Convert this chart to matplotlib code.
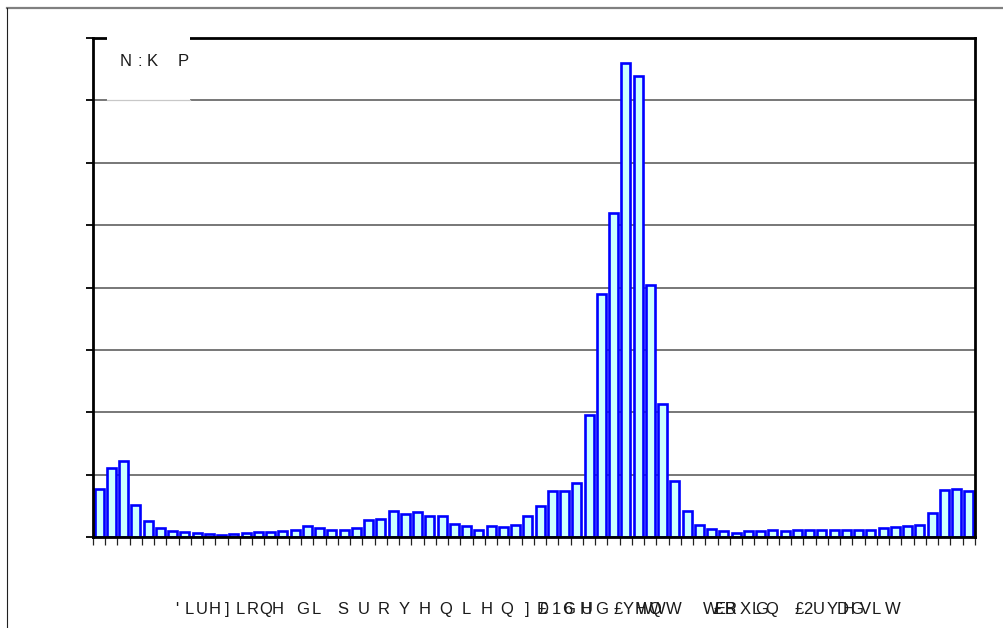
import matplotlib
matplotlib.use("Agg")
import matplotlib.pyplot as plt
from matplotlib.patches import Rectangle
from matplotlib.lines import Line2D
import numpy as np

# bar heights, one per 5 degree sector (72 sectors)
values = [0.77, 1.10, 1.22, 0.52, 0.26, 0.14, 0.10, 0.08, 0.06, 0.05,
          0.03, 0.05, 0.06, 0.08, 0.08, 0.10, 0.11, 0.17, 0.15, 0.11,
          0.11, 0.15, 0.28, 0.29, 0.41, 0.37, 0.40, 0.33, 0.33, 0.21,
          0.17, 0.12, 0.17, 0.16, 0.20, 0.34, 0.50, 0.73, 0.74, 0.86,
          1.95, 3.89, 5.20, 7.60, 7.39, 4.04, 2.13, 0.90, 0.41, 0.19,
          0.13, 0.09, 0.07, 0.09, 0.09, 0.12, 0.10, 0.12, 0.12, 0.11,
          0.12, 0.12, 0.12, 0.11, 0.14, 0.155, 0.17, 0.20, 0.39, 0.75,
          0.77, 0.73]

unit_label = "N:K P"
unit_x = [120, 138, 147, 178]

# x axis title as it appears (wrongly encoded font, broken spacing)
xlabel_words = ["'LUH]LRQH", "GL", "SURYHQLHQ]"]
xlabel_words_layout = [(177, 12.6), (303, 13.0), (343, 20.5)]
xlabel_tail = "D£1G6HUG£YHWQWWWE£RBXLGQ£2UYDHGVLW"
xlabel_tail_x = [537, 539, 552, 562, 563, 580, 581, 595,
                 614, 623, 635, 637, 648, 650, 666, 703, 715, 714, 725,
                 725, 740, 752, 755, 765, 795, 803, 813, 827, 837, 843,
                 850, 860, 872, 885]

W, H = 1004, 628


def fx(px):
    return px / W


def fy(py):
    return 1 - py / H


def main():
    plt.rcParams['font.family'] = ['Liberation Sans', 'DejaVu Sans']
    fig = plt.figure(figsize=(W / 100, H / 100), dpi=100)
    ax = fig.add_axes([fx(93), fy(537), fx(975) - fx(93), fy(38) - fy(537)])

    x = np.arange(len(values))
    ax.bar(x, values, width=0.74, color='#ccffff', edgecolor='#0000ff',
           linewidth=1.9, zorder=3)

    ax.set_xlim(-0.5, len(values) - 0.5)
    ax.set_ylim(0, 8)
    ax.set_xticks(np.arange(-0.5, len(values)))
    ax.set_yticks(np.arange(0, 9))
    ax.set_xticklabels([])
    ax.set_yticklabels([])
    ax.tick_params(axis='x', length=6, width=0.9, color='#222222',
                   direction='out')
    ax.tick_params(axis='y', length=5, width=1.3, color='black',
                   direction='out')
    ax.yaxis.grid(True, color='#606060', linewidth=1.2, zorder=1)
    ax.set_axisbelow(True)
    for side in ['left', 'right', 'top', 'bottom']:
        ax.spines[side].set_linewidth(2)
        ax.spines[side].set_color('black')
        ax.spines[side].set_zorder(4)

    # outer frame of the picture
    fig.add_artist(Line2D([fx(7), fx(1004)], [fy(8), fy(8)],
                          color='#808080', linewidth=1.6))
    fig.add_artist(Line2D([fx(7), fx(7)], [fy(8), fy(628)],
                          color='#202020', linewidth=0.8))

    # white box holding the unit label
    fig.add_artist(Rectangle((fx(107), fy(99.5)), fx(190) - fx(107),
                             fy(34) - fy(99.5), facecolor='white',
                             edgecolor='none', zorder=5))
    fig.add_artist(Line2D([fx(107), fx(190)], [fy(100), fy(100)],
                          color='#c8c8c8', linewidth=0.9, zorder=6))
    for ch, px in zip(unit_label.replace(' ', ''), unit_x):
        fig.text(fx(px), fy(61), ch, fontsize=12, color='#1a1a1a',
                 ha='left', va='center', zorder=7)

    # axis title
    for word, (x0, step) in zip(xlabel_words, xlabel_words_layout):
        for k, ch in enumerate(word):
            fig.text(fx(x0 + step * k), fy(609.5), ch, fontsize=12,
                     color='#1a1a1a', ha='center', va='center')
    for ch, px in zip(xlabel_tail, xlabel_tail_x):
        fig.text(fx(px), fy(609.5), ch, fontsize=12, color='#1a1a1a',
                 ha='left', va='center')

    fig.savefig("out.png", dpi=100)


if __name__ == "__main__":
    main()
